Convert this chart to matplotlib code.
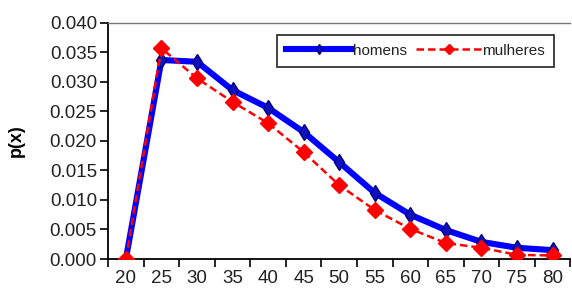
import matplotlib
matplotlib.use('Agg')
import matplotlib.pyplot as plt

plt.rcParams['font.family'] = ['Liberation Sans', 'DejaVu Sans']

idades = ['20', '25', '30', '35', '40', '45', '50', '55', '60', '65', '70', '75', '80']
homens = [0.0, 0.0337, 0.0334, 0.0286, 0.0256, 0.0215, 0.0164, 0.0112,
          0.0075, 0.0049, 0.0029, 0.0019, 0.0015]
mulheres = [0.0, 0.0357, 0.0306, 0.0266, 0.0230, 0.0181, 0.0125, 0.0083,
            0.0051, 0.0027, 0.0019, 0.0007, 0.0006]
yticks = [0.000, 0.005, 0.010, 0.015, 0.020, 0.025, 0.030, 0.035, 0.040]

fig = plt.figure(figsize=(5.72, 2.96), dpi=100)
ax = fig.add_axes([0.189, 0.125, 0.808, 0.798])

x = list(range(len(idades)))
ax.plot(x, homens, color='#0000ff', lw=4.4, marker='d', ms=8,
        mfc='#1010c0', mec='#000080', label='homens', zorder=3)
ax.plot(x, mulheres, color='#ff0000', lw=1.8, dashes=(3, 1.6), marker='D', ms=8.5,
        mfc='#ff0000', mec='#ff0000', label='mulheres', zorder=4)

ax.set_xlim(-0.5, len(idades) - 0.5)
ax.set_ylim(0, 0.040)
ax.set_yticks(yticks)
ax.set_yticklabels([f'{v:.3f}' for v in yticks], fontsize=13.5, color='#222222')

# category axis: tick marks between categories, labels at centres
ax.set_xticks([i - 0.5 for i in range(len(idades) + 1)])
ax.set_xticklabels([])
ax.set_xticks(x, minor=True)
ax.set_xticklabels(idades, minor=True, fontsize=13.5, color='#222222')
ax.tick_params(axis='x', which='major', direction='out', length=6, width=1.2)
ax.tick_params(axis='x', which='minor', length=0, pad=8)
ax.tick_params(axis='y', direction='out', length=6, width=1.2, pad=2)

ax.spines['right'].set_visible(False)
ax.spines['top'].set_color('#777777')
ax.spines['top'].set_linewidth(1.0)
ax.spines['left'].set_linewidth(1.3)
ax.spines['bottom'].set_linewidth(1.3)

ax.set_ylabel('p(x)', fontsize=13, fontweight='bold', labelpad=18)

leg = ax.legend(loc='upper right', ncol=2, fontsize=11, frameon=True, fancybox=False,
                edgecolor='black', handlelength=4.3, handletextpad=0.05,
                columnspacing=0.6, borderpad=0.6, borderaxespad=0,
                markerscale=0.65, labelcolor='#222222',
                bbox_to_anchor=(0.965, 0.95))
leg.get_frame().set_linewidth(1.3)

fig.savefig('out.png', dpi=100)
